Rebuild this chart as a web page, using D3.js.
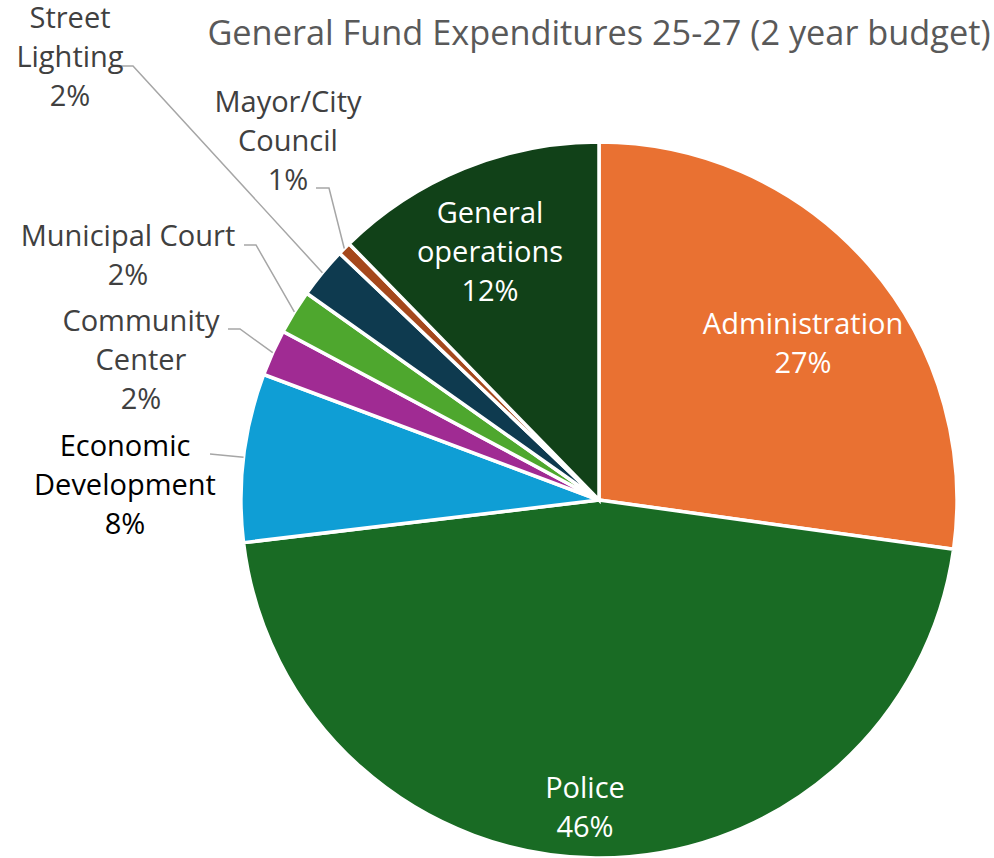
<!DOCTYPE html>
<html>
<head>
<meta charset="utf-8">
<script src="https://cdn.jsdelivr.net/npm/d3@7"></script>
<style>
  html, body { margin: 0; padding: 0; background: #fff; }
  svg { display: block; font-family: "Open Sans", "Liberation Sans", sans-serif; }
</style>
</head>
<body>
<svg id="chart" width="994" height="858"></svg>
<script>
// Budget shares (percent of the two-year general fund), clockwise from 12 o'clock
const categories = ["Administration", "Police", "Economic Development", "Community Center",
                    "Municipal Court", "Street Lighting", "Mayor/City Council", "General operations"];
const shares = [27.2, 45.9, 7.6, 2.1, 2.0, 2.3, 0.6, 12.3];
const labelLines = [["Administration"], ["Police"], ["Economic", "Development"], ["Community", "Center"],
                    ["Municipal Court"], ["Street", "Lighting"], ["Mayor/City", "Council"], ["General", "operations"]];
const sliceColors = ["#E97132", "#196B24", "#0F9ED5", "#A02B93", "#4EA72E", "#0E3A4F", "#A5481C", "#114118"];
const titleText = "General Fund Expenditures 25-27 (2 year budget)";

// Label placement: block centre x, first baseline y, text colour, and for outside labels the leader start
const labelLayout = {
  "Administration":       { x: 803, y: 334, fill: "#ffffff" },
  "Police":               { x: 585, y: 798, fill: "#ffffff" },
  "Economic Development": { x: 125, y: 456, fill: "#000000", leader: [210, 454], elbow: 0 },
  "Community Center":     { x: 141, y: 331, fill: "#404040", leader: [228, 329], elbow: 12 },
  "Municipal Court":      { x: 128, y: 246, fill: "#404040", leader: [244, 245], elbow: 12 },
  "Street Lighting":      { x: 70,  y: 28,  fill: "#404040", leader: [121, 66],  elbow: 12 },
  "Mayor/City Council":   { x: 288, y: 112, fill: "#404040", leader: [316, 188], elbow: 13 },
  "General operations":   { x: 490, y: 223, fill: "#ffffff" }
};

const W = 994, H = 858;
const cx = 599, cy = 500, radius = 358;
const lineGap = 38.8;

const data = categories.map((c, i) => ({ name: c, value: shares[i], lines: labelLines[i], color: sliceColors[i] }));
const total = d3.sum(shares);

const svg = d3.select("#chart");

// Title
svg.append("text")
  .attr("x", 599).attr("y", 45)
  .attr("text-anchor", "middle")
  .attr("fill", "#595959")
  .attr("font-size", 34.3)
  .text(titleText);

const pie = d3.pie().sort(null).value(d => d.value).startAngle(0).endAngle(2 * Math.PI);
const arc = d3.arc().innerRadius(0).outerRadius(radius);
const arcs = pie(data);

const g = svg.append("g").attr("transform", `translate(${cx},${cy})`);

g.selectAll("path.slice")
  .data(arcs)
  .join("path")
  .attr("class", "slice")
  .attr("d", arc)
  .attr("fill", d => d.data.color)
  .attr("stroke", "#ffffff")
  .attr("stroke-width", 3.5)
  .attr("stroke-linejoin", "miter");

// Leader lines for the small slices
arcs.forEach(d => {
  const L = labelLayout[d.data.name];
  if (!L.leader) return;
  const mid = (d.startAngle + d.endAngle) / 2;
  const px = cx + radius * Math.sin(mid);
  const py = cy - radius * Math.cos(mid);
  const [sx, sy] = L.leader;
  const pts = [[sx, sy], [sx + L.elbow, sy], [px, py]];
  svg.append("path")
    .attr("d", d3.line()(pts))
    .attr("fill", "none")
    .attr("stroke", "#A6A6A6")
    .attr("stroke-width", 1.5);
});

// Data labels: category name lines plus rounded percentage
arcs.forEach(d => {
  const L = labelLayout[d.data.name];
  const pct = Math.round(d.data.value / total * 100) + "%";
  const lines = d.data.lines.concat([pct]);
  const t = svg.append("text")
    .attr("text-anchor", "middle")
    .attr("fill", L.fill)
    .attr("font-size", 29);
  lines.forEach((s, i) => {
    t.append("tspan").attr("x", L.x).attr("y", L.y + i * lineGap).text(s);
  });
});
</script>
</body>
</html>
